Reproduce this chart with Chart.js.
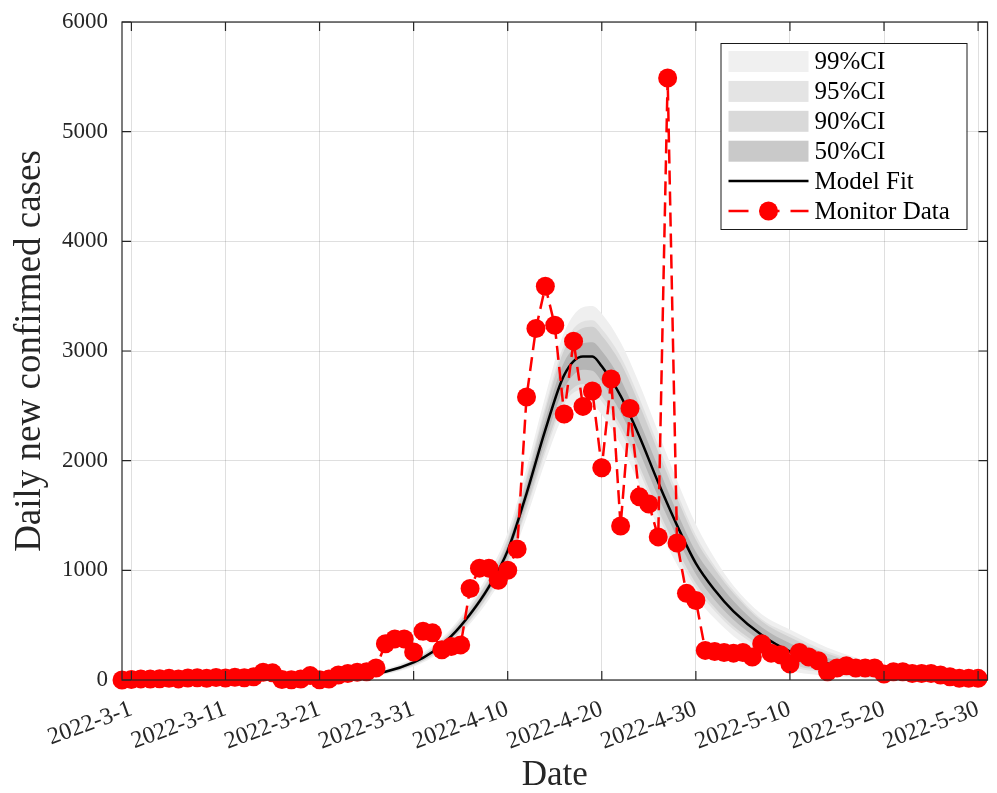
<!DOCTYPE html>
<html>
<head>
<meta charset="utf-8">
<script src="https://cdn.jsdelivr.net/npm/chart.js@4.4.1/dist/chart.umd.min.js"></script>
<style>
  html, body { margin: 0; padding: 0; background: #ffffff; }
  #wrap { width: 997px; height: 793px; }
</style>
</head>
<body>
<div id="wrap"><canvas id="c" width="997" height="793"></canvas></div>
<script>
// ---------------- data ----------------
// Day offsets are counted from 2022-3-1 (day 0).
const xTickDays   = [0, 10, 20, 30, 40, 50, 60, 70, 80, 90];
const xTickLabels = ['2022-3-1', '2022-3-11', '2022-3-21', '2022-3-31', '2022-4-10',
                     '2022-4-20', '2022-4-30', '2022-5-10', '2022-5-20', '2022-5-30'];
const yTickValues = [0, 1000, 2000, 3000, 4000, 5000, 6000];

// Monitor data: daily values starting at day -1 (2022-2-28) through day 90 (2022-5-30)
const monitorStartDay = -1;
const monitorValues = [
  0,
  5, 10, 8, 12, 15, 10, 18, 20, 15, 22,
  18, 25, 20, 30, 70, 65, 5, 3, 8, 40,
  2, 8, 45, 60, 70, 75, 110, 330, 375, 375,
  255, 445, 430, 275, 305, 320, 835, 1020, 1020, 910,
  1000, 1195, 2580, 3205, 3590, 3235, 2425, 3090, 2495, 2635,
  1935, 2745, 1405, 2475, 1670, 1605, 1305, 5490, 1250, 790,
  725, 270, 260, 250, 245, 250, 210, 330, 245, 230,
  145, 250, 210, 175, 75, 110, 130, 110, 110, 110,
  55, 75, 75, 60, 60, 60, 45, 30, 15, 15,
  15
];

// Model fit and confidence bands, sampled at these days
const fitDays   = [15, 20, 24, 27, 30, 32, 34, 36, 38, 40, 42, 44, 46, 48, 49, 50, 52, 54, 56, 58, 60, 62, 64, 67, 70, 74, 80, 90];
const fitValues = [5, 15, 38, 75, 160, 255, 400, 600, 850, 1180, 1700, 2280, 2780, 2950, 2950, 2860, 2590, 2220, 1800, 1410, 1064, 820, 625, 410, 260, 150, 58, 15];
const ci50Upper = [6, 17, 42, 81, 170, 268, 418, 625, 885, 1230, 1770, 2375, 2900, 3070, 3080, 3000, 2740, 2360, 1940, 1530, 1170, 930, 720, 480, 335, 200, 90, 25];
const ci50Lower = [4, 13, 34, 68, 150, 242, 382, 575, 815, 1130, 1630, 2185, 2660, 2830, 2820, 2720, 2440, 2080, 1670, 1300, 965, 730, 550, 350, 190, 105, 35, 7];
const ci90Upper = [8, 20, 47, 88, 181, 284, 438, 652, 918, 1272, 1830, 2460, 3010, 3210, 3220, 3140, 2890, 2510, 2080, 1660, 1280, 1010, 790, 535, 390, 240, 110, 33];
const ci90Lower = [3, 11, 30, 61, 138, 226, 364, 550, 785, 1090, 1575, 2110, 2560, 2700, 2680, 2590, 2320, 1950, 1550, 1190, 880, 660, 490, 305, 150, 80, 22, 4];
const ci95Upper = [9, 22, 50, 92, 187, 292, 448, 665, 935, 1295, 1860, 2500, 3060, 3270, 3280, 3200, 2950, 2570, 2140, 1710, 1320, 1040, 815, 555, 420, 260, 122, 38];
const ci95Lower = [3, 10, 28, 58, 133, 220, 355, 538, 770, 1070, 1545, 2070, 2520, 2650, 2630, 2540, 2270, 1900, 1500, 1140, 840, 630, 460, 280, 130, 65, 15, 2];
const ci99Upper = [10, 25, 55, 100, 200, 310, 470, 695, 975, 1345, 1930, 2590, 3170, 3400, 3410, 3340, 3080, 2700, 2260, 1820, 1420, 1110, 860, 600, 460, 295, 140, 48];
const ci99Lower = [2, 8, 24, 52, 122, 205, 335, 512, 735, 1025, 1480, 1990, 2420, 2540, 2520, 2420, 2150, 1780, 1390, 1050, 760, 560, 400, 230, 90, 40, 5, 0];

const xLabel = 'Date';
const yLabel = 'Daily new confirmed cases';

// ---------------- styling ----------------
const SERIF = '"Liberation Serif", "Times New Roman", serif';
const AXIS_COLOR = '#262626';
const bandFill   = { '99%CI': '#efefef', '95%CI': '#e1e1e1', '90%CI': '#cfcfcf', '50%CI': '#b5b5b5' };
const bandSwatch = { '99%CI': '#f0f0f0', '95%CI': '#e4e4e4', '90%CI': '#d9d9d9', '50%CI': '#c9c9c9' };

const pts = (xs, ys) => xs.map((x, i) => ({ x: x, y: ys[i] }));
const monitorPoints = monitorValues.map((v, i) => ({ x: monitorStartDay + i, y: v }));

function bandPair(label, up, lo) {
  return [
    { label: label, data: pts(fitDays, up), backgroundColor: bandFill[label], borderWidth: 0,
      pointRadius: 0, fill: '+1', cubicInterpolationMode: 'monotone' },
    { label: label + '_lo', data: pts(fitDays, lo), borderWidth: 0, pointRadius: 0,
      fill: false, cubicInterpolationMode: 'monotone' }
  ];
}

const datasets = [
  { label: 'Monitor Data', data: monitorPoints, borderColor: '#ff0000', backgroundColor: '#ff0000',
    borderWidth: 2.5, borderDash: [14, 7], pointRadius: 9.5, pointHoverRadius: 9.5,
    pointBorderWidth: 0, pointBackgroundColor: '#ff0000', fill: false, tension: 0, clip: false },
  { label: 'Model Fit', data: pts(fitDays, fitValues), borderColor: '#000000', borderWidth: 2.5,
    pointRadius: 0, fill: false, cubicInterpolationMode: 'monotone' },
  ...bandPair('50%CI', ci50Upper, ci50Lower),
  ...bandPair('90%CI', ci90Upper, ci90Lower),
  ...bandPair('95%CI', ci95Upper, ci95Lower),
  ...bandPair('99%CI', ci99Upper, ci99Lower)
];

// ---------------- box, inward ticks and legend (MATLAB look) ----------------
const matlabDecor = {
  id: 'matlabDecor',
  afterDraw(chart) {
    const { ctx, chartArea: a, scales } = chart;
    const xs = scales.x, ys = scales.y;
    ctx.save();
    ctx.strokeStyle = AXIS_COLOR;
    ctx.lineWidth = 1.2;
    ctx.strokeRect(a.left, a.top, a.right - a.left, a.bottom - a.top);
    const L = 9;
    ctx.beginPath();
    xs.ticks.forEach(t => {
      const px = xs.getPixelForValue(t.value);
      ctx.moveTo(px, a.bottom); ctx.lineTo(px, a.bottom - L);
      ctx.moveTo(px, a.top);    ctx.lineTo(px, a.top + L);
    });
    ys.ticks.forEach(t => {
      const py = ys.getPixelForValue(t.value);
      ctx.moveTo(a.left, py);  ctx.lineTo(a.left + L, py);
      ctx.moveTo(a.right, py); ctx.lineTo(a.right - L, py);
    });
    ctx.stroke();

    // legend
    const order = ['99%CI', '95%CI', '90%CI', '50%CI', 'Model Fit', 'Monitor Data'];
    const lw = 246, lh = 186;
    const lx = a.right - 21 - lw, ly = a.top + 21;
    ctx.fillStyle = '#ffffff';
    ctx.fillRect(lx, ly, lw, lh);
    ctx.strokeStyle = '#1a1a1a';
    ctx.lineWidth = 1;
    ctx.strokeRect(lx + 0.5, ly + 0.5, lw, lh);
    const rowH = 29.9, first = 18.5;
    const sx0 = lx + 8, sx1 = lx + 88;
    ctx.font = '25px ' + SERIF;
    ctx.textBaseline = 'middle';
    order.forEach((name, i) => {
      const cy = ly + first + i * rowH;
      if (bandSwatch[name]) {
        ctx.fillStyle = bandSwatch[name];
        ctx.fillRect(sx0, cy - 10.5, sx1 - sx0, 21);
      } else if (name === 'Model Fit') {
        ctx.strokeStyle = '#000000'; ctx.lineWidth = 2.5; ctx.setLineDash([]);
        ctx.beginPath(); ctx.moveTo(sx0, cy); ctx.lineTo(sx1, cy); ctx.stroke();
      } else {
        ctx.strokeStyle = '#ff0000'; ctx.lineWidth = 2.5; ctx.setLineDash([20, 11]);
        ctx.beginPath(); ctx.moveTo(sx0, cy); ctx.lineTo(sx1, cy); ctx.stroke();
        ctx.setLineDash([]);
        ctx.fillStyle = '#ff0000';
        ctx.beginPath(); ctx.arc((sx0 + sx1) / 2, cy, 9.5, 0, Math.PI * 2); ctx.fill();
      }
      ctx.fillStyle = '#000000';
      ctx.fillText(name, lx + 94, cy + 1);
    });
    ctx.restore();
  }
};

function zeroPad(s) { s.paddingLeft = 0; s.paddingRight = 0; s.paddingTop = 0; s.paddingBottom = 0; }

new Chart(document.getElementById('c'), {
  type: 'line',
  data: { datasets: datasets },
  plugins: [matlabDecor],
  options: {
    responsive: false,
    animation: false,
    devicePixelRatio: 1,
    layout: { padding: { left: 0, right: 8, top: 22, bottom: 0 } },
    plugins: { legend: { display: false }, tooltip: { enabled: false } },
    elements: { line: { tension: 0 } },
    scales: {
      x: {
        type: 'linear', min: -1, max: 91,
        afterBuildTicks: s => { s.ticks = xTickDays.map(v => ({ value: v })); },
        afterFit: s => { s.height = 113; zeroPad(s); },
        ticks: {
          autoSkip: false, minRotation: 20, maxRotation: 20, padding: 15,
          color: AXIS_COLOR, font: { family: SERIF, size: 24 },
          callback: (v, i) => xTickLabels[i]
        },
        grid: { color: 'rgba(38,38,38,0.15)', lineWidth: 1, drawTicks: false },
        border: { display: false },
        title: { display: true, text: xLabel, color: AXIS_COLOR,
                 font: { family: SERIF, size: 35, lineHeight: 1 }, padding: { top: 0, bottom: 0 } }
      },
      y: {
        type: 'linear', min: 0, max: 6000,
        afterBuildTicks: s => { s.ticks = yTickValues.map(v => ({ value: v })); },
        afterFit: s => { s.width = 122; zeroPad(s); },
        ticks: {
          padding: 14, color: AXIS_COLOR, font: { family: SERIF, size: 23 },
          callback: v => String(v)
        },
        grid: { color: 'rgba(38,38,38,0.15)', lineWidth: 1, drawTicks: false },
        border: { display: false },
        title: { display: true, text: yLabel, color: AXIS_COLOR,
                 font: { family: SERIF, size: 37, lineHeight: 1 }, padding: { top: 12, bottom: 0 } }
      }
    }
  }
});
</script>
</body>
</html>
